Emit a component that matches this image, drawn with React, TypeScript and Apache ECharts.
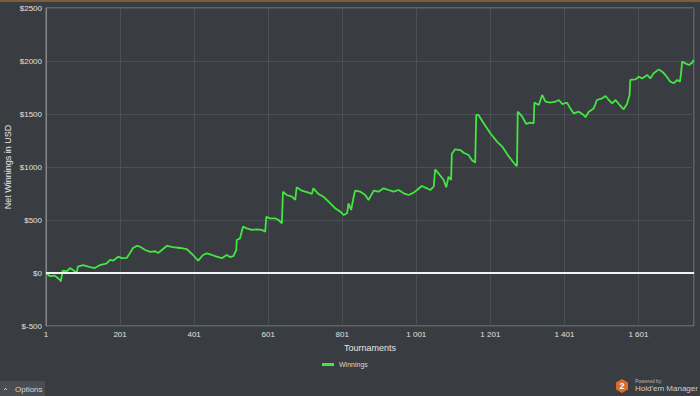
import React, { useEffect, useRef } from "react";
import * as echarts from "echarts";

// zero-based tournament index (label = index + 1)
const tournamentIdx = [
  0, 11, 24, 38, 40, 45, 56, 65, 73, 83, 86, 100, 119, 132, 146, 164, 173, 181, 195, 205, 218, 227, 235, 245, 254,
  268, 281, 295, 303, 326, 343, 362, 380, 397, 411, 424, 434, 448, 461, 475, 488, 497, 506, 514, 515, 524, 532, 542,
  556, 569, 583, 592, 595, 605, 619, 628, 637, 640, 650, 664, 673, 677, 691, 709, 718, 722, 736, 749, 768, 781, 795,
  804, 813, 817, 824, 831, 835, 849, 862, 871, 885, 898, 912, 925, 939, 952, 966, 979, 993, 1002, 1015, 1029, 1038,
  1047, 1051, 1060, 1074, 1081, 1087, 1094, 1096, 1105, 1119, 1128, 1141, 1150, 1159, 1162, 1168, 1182, 1200, 1218,
  1232, 1249, 1268, 1272, 1274, 1286, 1297, 1308, 1317, 1319, 1331, 1340, 1349, 1362, 1376, 1385, 1394, 1407, 1416,
  1425, 1439, 1452, 1457, 1466, 1479, 1488, 1502, 1511, 1520, 1529, 1538, 1547, 1560, 1569, 1576, 1578, 1592, 1601,
  1610, 1624, 1632, 1641, 1655, 1664, 1673, 1686, 1695, 1705, 1712, 1715, 1718, 1727, 1736, 1745, 1749,
];

const winnings = [
  0, -30, -25, -66, -80, 22, 15, 47, 28, 0, 60, 75, 56, 47, 75, 90, 123, 116, 154, 140, 142, 189, 236, 255, 248,
  217, 200, 205, 189, 255, 245, 236, 225, 170, 116, 170, 185, 170, 154, 140, 170, 150, 160, 217, 311, 327, 437, 421,
  406, 412, 406, 390, 531, 516, 516, 500, 469, 767, 736, 720, 689, 808, 777, 758, 745, 799, 745, 720, 657, 610, 578,
  547, 563, 657, 594, 720, 777, 767, 736, 689, 777, 767, 799, 783, 767, 783, 752, 736, 758, 783, 821, 799, 783,
  814, 978, 940, 877, 808, 908, 877, 1123, 1167, 1160, 1135, 1113, 1066, 1041, 1491, 1491, 1412, 1318, 1239,
  1193, 1104, 1019, 1009, 1522, 1475, 1406, 1418, 1412, 1607, 1585, 1679, 1616, 1607, 1616, 1632, 1594, 1607, 1553,
  1506, 1522, 1491, 1469, 1522, 1553, 1632, 1648, 1670, 1632, 1601, 1632, 1594, 1544, 1594, 1679, 1821, 1827, 1852,
  1836, 1868, 1836, 1884, 1921, 1899, 1868, 1805, 1790, 1821, 1805, 1884, 1994, 1978, 1962, 1984, 2009,
];

const seriesName = "Winnings";
const xAxisTitle = "Tournaments";
const yAxisTitle = "Net Winnings in USD";

function fmtThousands(n: number): string {
  const s = String(n);
  return s.replace(/\B(?=(\d{3})+(?!\d))/g, " ");
}

export default function App() {
  const ref = useRef<HTMLDivElement>(null);

  useEffect(() => {
    if (!ref.current) return;
    const chart = echarts.init(ref.current, undefined, { renderer: "svg" });
    const data = tournamentIdx.map((t, i) => [t, winnings[i]]);
    const font = "Liberation Sans, Arial, sans-serif";
    const hexCx = 622;
    const hexCy = 386;
    const hr = 7;
    const hexPts: number[][] = [];
    for (let k = 0; k < 6; k++) {
      const a = (Math.PI / 3) * k - Math.PI / 2;
      hexPts.push([hexCx + hr * Math.cos(a), hexCy + hr * Math.sin(a)]);
    }
    chart.setOption({
      animation: false,
      backgroundColor: "#393c40",
      textStyle: { fontFamily: font },
      grid: {
        left: 46,
        top: 8,
        right: 6,
        bottom: 70,
        show: true,
        outerBoundsMode: "none",
        containLabel: false,
        borderColor: "#85888c",
        borderWidth: 1,
        backgroundColor: "transparent",
      },
      legend: {
        data: [seriesName],
        left: 322,
        top: 361,
        padding: 0,
        icon: "rect",
        itemWidth: 12,
        itemHeight: 3,
        textStyle: { color: "#d8d8d8", fontSize: 7, fontFamily: font },
      },
      xAxis: {
        type: "value",
        min: 0,
        max: 1750,
        interval: 200,
        name: xAxisTitle,
        nameLocation: "middle",
        nameGap: 17,
        nameMoveOverlap: false,
        nameTextStyle: { color: "#e6e6e6", fontSize: 9, fontFamily: font },
        axisLine: { show: true, lineStyle: { color: "#85888c" } },
        axisTick: { show: false },
        axisLabel: {
          color: "#e0e0e0",
          fontSize: 8,
          margin: 4,
          showMaxLabel: false,
          formatter: (v: number) => fmtThousands(Math.round(v) + 1),
        },
        splitLine: { show: true, lineStyle: { color: "#4c5055", width: 1 } },
      },
      yAxis: {
        type: "value",
        min: -500,
        max: 2500,
        interval: 500,
        name: yAxisTitle,
        nameLocation: "middle",
        nameGap: 34,
        nameMoveOverlap: false,
        nameTextStyle: { color: "#e6e6e6", fontSize: 9, fontFamily: font },
        axisLine: { show: true, lineStyle: { color: "#85888c" } },
        axisTick: { show: false },
        axisLabel: {
          color: "#e0e0e0",
          fontSize: 8,
          margin: 4,
          formatter: (v: number) => "$" + v,
        },
        splitLine: { show: true, lineStyle: { color: "#4c5055", width: 1 } },
      },
      series: [
        {
          name: seriesName,
          type: "line",
          data,
          showSymbol: false,
          symbol: "none",
          color: "#42e642",
          lineStyle: { color: "#42e642", width: 1.8 },
          markLine: {
            silent: true,
            symbol: ["none", "none"],
            label: { show: false },
            lineStyle: { color: "#f2f2f2", width: 2, type: "solid" },
            data: [{ yAxis: 0 }],
          },
          z: 3,
        },
      ],
      graphic: [
        {
          type: "rect",
          shape: { x: 0, y: 0, width: 700, height: 2 },
          style: { fill: "#7d5d38" },
          silent: true,
        },
        {
          type: "rect",
          shape: { x: 0, y: 381, width: 45, height: 15 },
          style: { fill: "#4a4d51" },
          silent: true,
        },
        {
          type: "polyline",
          shape: { points: [[4, 390], [5.5, 388.3], [7, 390]] },
          style: { stroke: "#cfcfcf", lineWidth: 1, fill: "none" },
          silent: true,
        },
        {
          type: "text",
          x: 15,
          y: 389,
          style: {
            text: "Options",
            fill: "#d6d6d6",
            fontSize: 8,
            fontFamily: font,
            verticalAlign: "middle",
          },
          silent: true,
        },
        {
          type: "polygon",
          shape: { points: hexPts },
          style: { fill: "#dc6a2a" },
          silent: true,
        },
        {
          type: "text",
          x: hexCx,
          y: hexCy,
          style: {
            text: "2",
            fill: "#ffffff",
            fontSize: 9,
            fontWeight: "bold",
            fontFamily: font,
            align: "center",
            verticalAlign: "middle",
          },
          silent: true,
        },
        {
          type: "text",
          x: 635,
          y: 381,
          style: {
            text: "Powered by",
            fill: "#b8b8b8",
            fontSize: 5,
            fontFamily: font,
            verticalAlign: "middle",
          },
          silent: true,
        },
        {
          type: "text",
          x: 635,
          y: 388,
          style: {
            text: "Hold'em Manager",
            fill: "#cfcfcf",
            fontSize: 8,
            fontFamily: font,
            verticalAlign: "middle",
          },
          silent: true,
        },
      ],
    });
    return () => chart.dispose();
  }, []);

  return (
    <div
      ref={ref}
      style={{ position: "fixed", left: 0, top: 0, width: 700, height: 396 }}
    />
  );
}
